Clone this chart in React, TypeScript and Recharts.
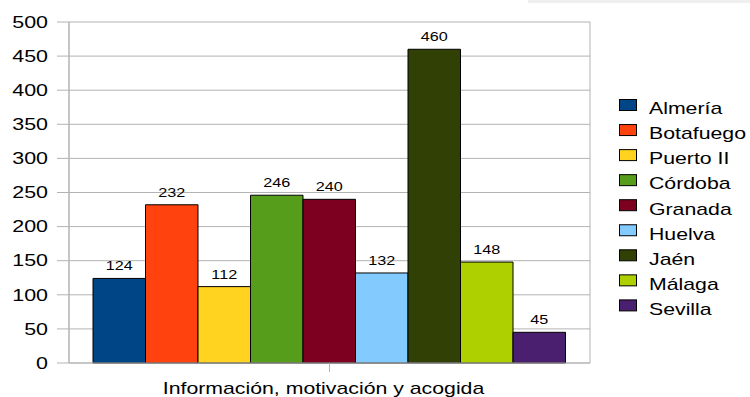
import React from 'react';
import { BarChart, Bar, XAxis, YAxis, CartesianGrid, Legend, LabelList } from 'recharts';

const categories = ['Información, motivación y acogida'];
const seriesNames = ['Almería', 'Botafuego', 'Puerto II', 'Córdoba', 'Granada', 'Huelva', 'Jaén', 'Málaga', 'Sevilla'];
const seriesValues = [124, 232, 112, 246, 240, 132, 460, 148, 45];
const seriesColors = ['#004586', '#ff420e', '#ffd320', '#579d1c', '#7e0021', '#83caff', '#314004', '#aecf00', '#4b1f6f'];
const yTicks = [0, 50, 100, 150, 200, 250, 300, 350, 400, 450, 500];

const data = categories.map((cat) => {
  const row: Record<string, any> = { cat };
  seriesNames.forEach((n, i) => {
    row[n] = seriesValues[i];
  });
  return row;
});

const FONT = '"Liberation Sans", Arial, sans-serif';
const SX = 1.34;
const GRID = '#b3b3b3';

const YTick = (props: any) => {
  const { x, y, payload } = props;
  return (
    <text transform={`translate(${x},${y}) scale(${SX},1)`} textAnchor="end" dy="0.36em" fontSize={16} fontFamily={FONT} fill="#000">
      {payload.value}
    </text>
  );
};

const XTick = (props: any) => {
  const { x, y, payload } = props;
  return (
    <text transform={`translate(${x - 6},${y + 20}) scale(1.33,1)`} textAnchor="middle" fontSize={16} fontFamily={FONT} fill="#000">
      {payload.value}
    </text>
  );
};

const ValueLabel = (props: any) => {
  const { x, y, width, value } = props;
  return (
    <text transform={`translate(${x + width / 2},${y - 8}) scale(1.35,1)`} textAnchor="middle" fontSize={12} fontFamily={FONT} fill="#000">
      {value}
    </text>
  );
};

const LegendContent = (props: any) => {
  const items = [...(props.payload || [])].sort(
    (a: any, b: any) => seriesNames.indexOf(a.value) - seriesNames.indexOf(b.value)
  );
  return (
    <svg width={140} height={240} style={{ display: 'block' }}>
      {items.map((p: any, i: number) => (
        <g key={p.value}>
          <rect x={9.5} y={4.5 + i * 25.05} width={17} height={11} fill={p.color} stroke="#000" strokeWidth={1} />
          <text transform={`translate(39,${19.3 + i * 25.05}) scale(1.33,1)`} fontSize={16} fontFamily={FONT} fill="#000">
            {p.value}
          </text>
        </g>
      ))}
    </svg>
  );
};

export default function App() {
  return (
    <div style={{ position: 'absolute', left: 0, top: 0, width: 750, height: 397, background: '#fff' }}>
      <div style={{ position: 'absolute', left: 528, top: 0, width: 222, height: 3, background: '#efefef' }} />
      <BarChart
        width={750}
        height={397}
        data={data}
        margin={{ top: 22, right: 160, bottom: 0, left: 0 }}
        barSize={52.5}
        barGap={0}
      >
        <CartesianGrid
          stroke={GRID}
          horizontal={true}
          vertical={true}
          verticalCoordinatesGenerator={({ offset }: any) => [offset.left, offset.left + offset.width]}
        />
        <XAxis
          dataKey="cat"
          height={34}
          tickSize={9}
          axisLine={{ stroke: GRID }}
          tickLine={{ stroke: GRID }}
          tick={<XTick />}
          interval={0}
        />
        <YAxis
          width={69}
          domain={[0, 500]}
          ticks={yTicks}
          tickSize={12}
          tickMargin={9}
          axisLine={{ stroke: GRID }}
          tickLine={{ stroke: GRID }}
          tick={<YTick />}
          interval={0}
        />
        <Legend
          layout="vertical"
          align="center"
          verticalAlign="middle"
          content={<LegendContent />}
          wrapperStyle={{ position: 'absolute', left: 610, top: 95, width: 140, height: 240 }}
        />
        {seriesNames.map((n, i) => (
          <Bar key={n} dataKey={n} fill={seriesColors[i]} stroke="#000" strokeWidth={1} isAnimationActive={false}>
            <LabelList dataKey={n} content={<ValueLabel />} />
          </Bar>
        ))}
      </BarChart>
    </div>
  );
}
